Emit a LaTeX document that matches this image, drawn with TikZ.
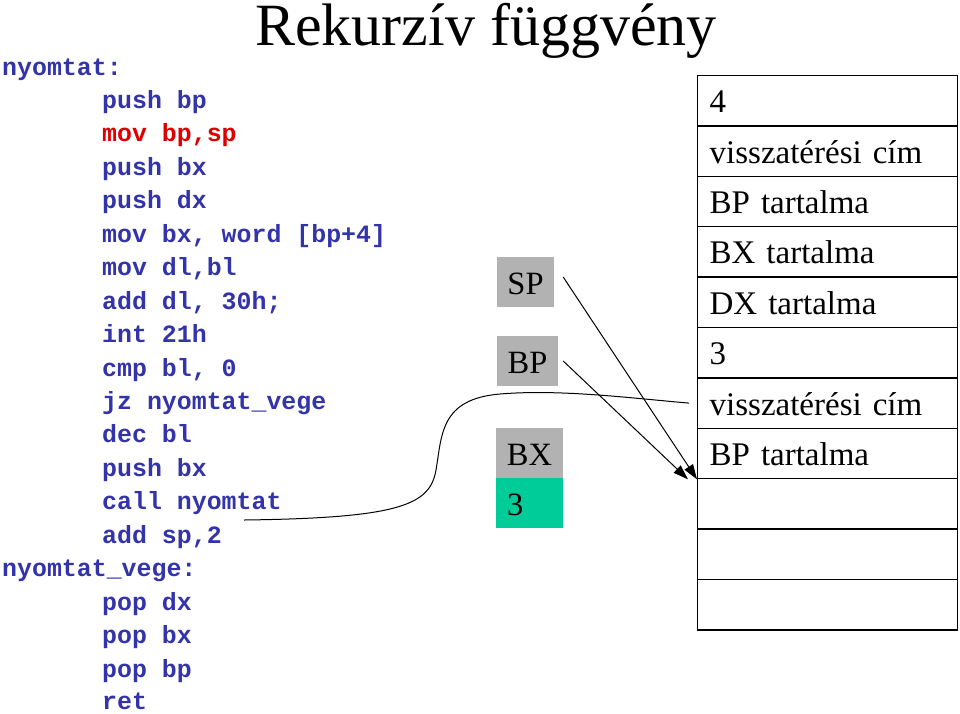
\documentclass[tikz,border=0pt]{standalone}
\usepackage{fontspec}
\setmainfont{Liberation Serif}
\newfontfamily\codefont{Liberation Mono}
\usetikzlibrary{arrows.meta,calc}
\definecolor{codeblue}{RGB}{51,51,170}
\definecolor{codered}{RGB}{221,0,0}
\definecolor{reggray}{RGB}{178,178,178}
\definecolor{reggreen}{RGB}{0,204,153}
\begin{document}
\begin{tikzpicture}[x=1pt,y=-1pt,
  codeline/.style={anchor=base west,inner sep=0pt,text=codeblue,
    font=\codefont\bfseries\fontsize{24.9}{24.9}\selectfont},
  stackrow/.style={draw,line width=1.3pt,anchor=west,minimum height=50.4pt,
    text width=236pt,align=left,inner xsep=12pt,inner ysep=0pt,
    text height=24pt,text depth=0pt,font=\fontsize{33}{33}\selectfont},
  regbox/.style={fill=reggray,inner sep=0pt,minimum height=50pt,
    text height=24pt,text depth=0pt,font=\fontsize{32.5}{32.5}\selectfont},
  ptr/.style={line width=1pt,-{Triangle[length=15pt,width=10pt]}},
  link/.style={line width=1pt}]
\useasboundingbox (0,0) rectangle (960,713);

% title
\node[anchor=base,inner sep=0pt,text height=42pt,text depth=13pt,font=\fontsize{60}{60}\selectfont] (title) at (486,45) {Rekurzív függvény};

% code
\node[codeline] (c0) at (2,75) {nyomtat:};
\node[codeline] (c1) at (102,108.45) {push bp};
\node[codeline,text=codered] (c2) at (102,141.9) {mov bp,sp};
\node[codeline] (c3) at (102,175.35) {push bx};
\node[codeline] (c4) at (102,208.8) {push dx};
\node[codeline] (c5) at (102,242.25) {mov bx, word [bp+4]};
\node[codeline] (c6) at (102,275.7) {mov dl,bl};
\node[codeline] (c7) at (102,309.15) {add dl, 30h;};
\node[codeline] (c8) at (102,342.6) {int 21h};
\node[codeline] (c9) at (102,376.05) {cmp bl, 0};
\node[codeline] (c10) at (102,409.5) {jz nyomtat\_vege};
\node[codeline] (c11) at (102,442.95) {dec bl};
\node[codeline] (c12) at (102,476.4) {push bx};
\node[codeline] (c13) at (102,509.85) {call nyomtat};
\node[codeline] (c14) at (102,543.3) {add sp,2};
\node[codeline] (c15) at (2,576.75) {nyomtat\_vege:};
\node[codeline] (c16) at (102,610.2) {pop dx};
\node[codeline] (c17) at (102,643.65) {pop bx};
\node[codeline] (c18) at (102,677.1) {pop bp};
\node[codeline] (c19) at (102,709.5) {ret};

% registers
\node[regbox,minimum width=57pt] (sp) at (525.5,282) {SP};
\node[regbox,minimum width=61pt] (bp) at (527.5,361) {BP};
\node[regbox,minimum width=67pt] (bx) at (529.5,453) {BX};
\node[regbox,fill=reggreen,anchor=west,text width=45pt,align=left,inner xsep=11pt,minimum width=67pt] (three) at (496,503) {3};

% stack
\node[stackrow] (r1) at (697,100.7) {4};
\node[stackrow] (r2) at (697,151.1) {visszatérési cím};
\node[stackrow] (r3) at (697,201.5) {BP tartalma};
\node[stackrow] (r4) at (697,251.9) {BX tartalma};
\node[stackrow] (r5) at (697,302.3) {DX tartalma};
\node[stackrow] (r6) at (697,352.7) {3};
\node[stackrow] (r7) at (697,403.1) {visszatérési cím};
\node[stackrow] (r8) at (697,453.5) {BP tartalma};
\node[stackrow] (r9) at (697,503.9) {};
\node[stackrow] (r10) at (697,554.3) {};
\node[stackrow] (r11) at (697,604.7) {};

% pointers
\draw[ptr] ([shift={(9,-5)}]sp.east) -- (r8.south west);
\draw[ptr] ([shift={(5,0)}]bp.east) -- ([xshift=-9pt]r8.south west);

% return address link
\coordinate (cstart) at (244,520);
\draw[link] (cstart) .. controls (400,518) and (430,505) .. (436,470)
  .. controls (442,435) and (440,399) .. (500,394)
  .. controls (560,389) and (630,398) .. ([xshift=-8pt]r7.west);
\end{tikzpicture}
\end{document}
